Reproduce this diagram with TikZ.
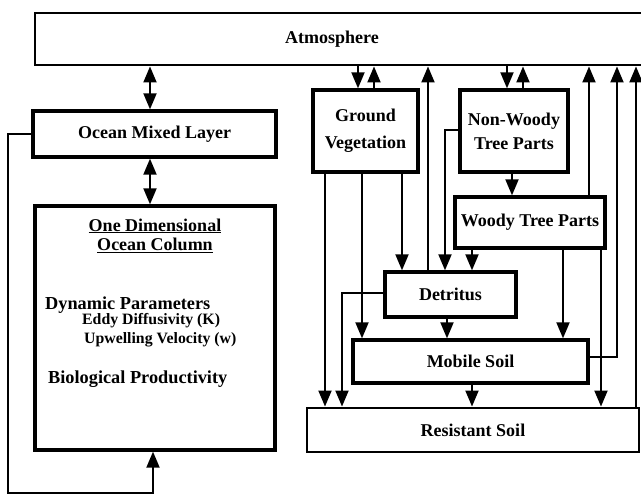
\documentclass[tikz,border=0pt]{standalone}
\usepackage{fontspec}
\setmainfont{Liberation Serif}
\usetikzlibrary{arrows.meta}
\begin{document}
\begin{tikzpicture}[x=1pt,y=-1pt,
  box/.style={draw, line width=3.3pt, inner sep=0pt, align=center,
    font=\bfseries\fontsize{18}{24}\selectfont},
  thinbox/.style={box, line width=2.9pt},
  txt/.style={inner sep=0pt, font=\bfseries\fontsize{18}{20}\selectfont},
  small/.style={inner sep=0pt, anchor=base west, font=\bfseries\fontsize{15.8}{18}\selectfont},
  big/.style={inner sep=0pt, anchor=base west, font=\bfseries\fontsize{18.3}{20}\selectfont},
  flow/.style={line width=1.9pt, -{Triangle[length=16pt,width=13pt]}},
  both/.style={line width=1.9pt, {Triangle[length=16pt,width=13pt]}-{Triangle[length=16pt,width=13pt]}}]

\useasboundingbox (0,0) rectangle (641,495);

% boxes
\node[thinbox, minimum width=620, minimum height=52] (atm) at (345,39) {};
\node[txt] (atmtxt) at (332,39) {Atmosphere};
\node[box, minimum width=243, minimum height=46] (oml) at (154.5,134) {Ocean Mixed Layer};
\node[box, minimum width=240, minimum height=244] (occ) at (155,328) {};
\node[txt, anchor=base] (occt1) at (155,231) {\underline{One Dimensional}};
\node[txt, anchor=base] (occt2) at (155,251) {\underline{Ocean Column}};
\node[big] (dyn) at (45,309) {Dynamic Parameters};
\node[small] (eddy) at (82,324) {Eddy Diffusivity (K)};
\node[small] (upw) at (84,343) {Upwelling Velocity (w)};
\node[big] (bio) at (48,383) {Biological Productivity};

\node[box, minimum width=105, minimum height=82, font=\bfseries\fontsize{18}{27}\selectfont] (gv) at (365.5,131) {Ground\\Vegetation};
\node[box, minimum width=108, minimum height=82] (nwtp) at (514,131) {Non-Woody\\Tree Parts};
\node[box, minimum width=150, minimum height=51] (wtp) at (530,222.5) {Woody Tree Parts};
\node[box, minimum width=131, minimum height=45] (det) at (450.5,294.5) {Detritus};
\node[box, minimum width=235, minimum height=43] (ms) at (470.5,361.5) {Mobile Soil};
\node[thinbox, minimum width=332, minimum height=44] (rs) at (473,430) {Resistant Soil};

% ocean
\draw[both] (atm.south -| 150,0) -- (oml.north -| 150,0);
\draw[both] (oml.south -| 150,0) -- (occ.north -| 150,0);
\draw[flow] (oml.west) -| (8,493) -| (occ.south -| 153,0);

% atmosphere exchanges
\draw[flow] (atm.south -| 358,0) -- (gv.north -| 358,0);
\draw[flow] (gv.north -| 374,0) -- (atm.south -| 374,0);
\draw[flow] (det.north -| 428,0) -- (atm.south -| 428,0);
\draw[flow] (atm.south -| 507,0) -- (nwtp.north -| 507,0);
\draw[flow] (nwtp.north -| 523,0) -- (atm.south -| 523,0);
\draw[flow] (wtp.north -| 589,0) -- (atm.south -| 589,0);
\draw[flow] ([yshift=4.5pt]ms.east) -| (atm.south -| 617,0);
\draw[flow] (rs.north -| 636,0) -- (atm.south -| 636,0);

% terrestrial flows
\draw[flow] (nwtp.south -| 512,0) -- (wtp.north -| 512,0);
\draw[flow] ([yshift=1pt]nwtp.west) -| (det.north -| 445,0);
\draw[flow] (wtp.south -| 472,0) -- (det.north -| 472,0);
\draw[flow] (gv.south -| 402,0) -- (det.north -| 402,0);
\draw[flow] (gv.south -| 362,0) -- (ms.north -| 362,0);
\draw[flow] (gv.south -| 325,0) -- (rs.north -| 325,0);
\draw[flow] ([yshift=1.5pt]det.west) -| (rs.north -| 342,0);
\draw[flow] (det.south -| 447,0) -- (ms.north -| 447,0);
\draw[flow] (ms.south -| 472,0) -- (rs.north -| 472,0);
\draw[flow] (wtp.south -| 563,0) -- (ms.north -| 563,0);
\draw[flow] (wtp.south -| 601,0) -- (rs.north -| 601,0);
\end{tikzpicture}
\end{document}
